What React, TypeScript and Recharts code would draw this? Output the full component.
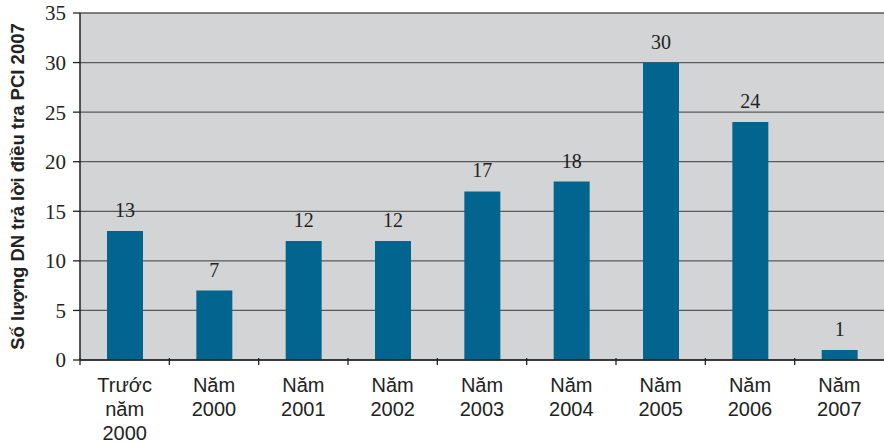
import React from "react";
import { BarChart, Bar, XAxis, YAxis, CartesianGrid, LabelList } from "recharts";

const categories = ["Trước\nnăm\n2000", "Năm\n2000", "Năm\n2001", "Năm\n2002", "Năm\n2003", "Năm\n2004", "Năm\n2005", "Năm\n2006", "Năm\n2007"];
const counts = [13, 7, 12, 12, 17, 18, 30, 24, 1];
const yTicks = [0, 5, 10, 15, 20, 25, 30, 35];
const yLabel = "Số lượng DN trả lời điều tra PCI 2007";

const data = categories.map((c, i) => ({ name: c, value: counts[i] }));

const XTick = (props: any) => {
  const { x, y, payload } = props;
  const lines = String(payload.value).split("\n");
  const off = payload.offset || 0;
  return (
    <g>
      <line x1={x - off} x2={x - off} y1={y - 8} y2={y - 1} stroke="#222" strokeWidth={1.3} />
      <text x={x} y={y} textAnchor="middle" fontFamily="Liberation Sans, Arial, sans-serif" fontSize={20} fill="#222">
        {lines.map((l, i) => (
          <tspan key={i} x={x} dy={i === 0 ? 26 : 24}>{l}</tspan>
        ))}
      </text>
    </g>
  );
};

export default function App() {
  return (
    <div style={{ position: "absolute", left: 0, top: 0, width: 884, height: 444, background: "#fff" }}>
      <BarChart width={884} height={444} data={data} margin={{ top: 13, right: 0, left: 0, bottom: 0 }} barSize={36}>
        <CartesianGrid vertical={false} fill="#d3d4d6" stroke="#5a5a5a" strokeWidth={1.3} />
        <XAxis
          dataKey="name"
          height={84}
          interval={0}
          tickLine={false}
          axisLine={{ stroke: "#222", strokeWidth: 1.5 }}
          tick={<XTick />}
          tickMargin={0}
        />
        <YAxis
          width={80}
          domain={[0, 35]}
          ticks={yTicks}
          interval={0}
          tickSize={7}
          tickMargin={7}
          axisLine={{ stroke: "#222", strokeWidth: 1.5 }}
          tickLine={{ stroke: "#222", strokeWidth: 1.3 }}
          tick={{ fontFamily: "Liberation Serif, Times New Roman, serif", fontSize: 21, fill: "#222" }}
          label={{
            value: yLabel,
            angle: -90,
            position: "insideLeft",
            offset: 0,
            dx: 17,
            style: { fontFamily: "Liberation Sans, Arial, sans-serif", fontSize: 18.5, fontWeight: "bold", fill: "#222", textAnchor: "middle" },
          }}
        />
        <Bar dataKey="value" fill="#02658f" isAnimationActive={false}>
          <LabelList dataKey="value" position="top" offset={14} style={{ fontFamily: "Liberation Serif, Times New Roman, serif", fontSize: 20, fill: "#222" }} />
        </Bar>
      </BarChart>
    </div>
  );
}
